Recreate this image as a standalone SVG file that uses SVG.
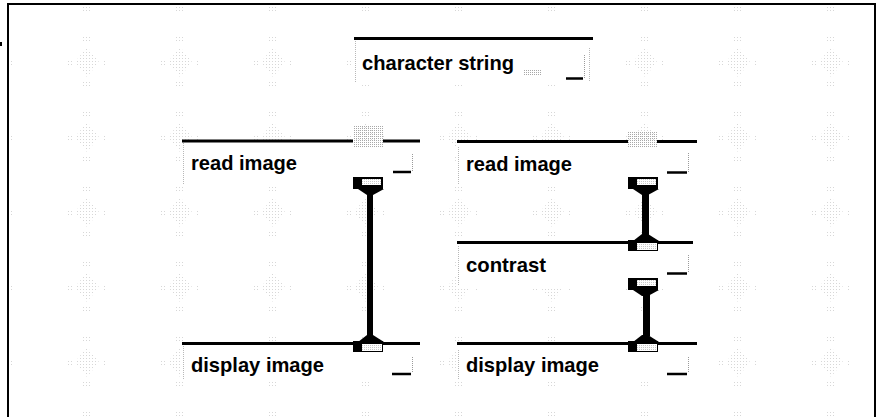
<svg xmlns="http://www.w3.org/2000/svg" xmlns:xlink="http://www.w3.org/1999/xlink" width="880" height="417" viewBox="0 0 880 417">
  <defs>
    <style>
      .body { fill: #fff; }
      .edge { stroke: #b8b8b8; stroke-width: 1; stroke-dasharray: 1 1; fill: none; }
      .bar { stroke: #000; stroke-width: 3; }
      .label { font-family: "Liberation Sans", Arial, sans-serif; font-weight: bold; font-size: 21px; fill: #000; }
      .btn { stroke: #000; stroke-width: 2.5; }
      .tick { stroke: #9a9a9a; stroke-width: 1; stroke-dasharray: 1 1; }
      .stem { fill: #000; }
      .ghost { fill: url(#dither); }
    </style>
    <!-- 1-in-4 pixel dither used for the desktop texture and dimmed ports -->
    <pattern id="dither" width="2" height="2" patternUnits="userSpaceOnUse">
      <rect width="1" height="1" fill="#a8a8a8"/>
    </pattern>
    <!-- sparser dither for the backdrop -->
    <pattern id="sparse" width="3" height="3" patternUnits="userSpaceOnUse">
      <rect width="1" height="1" fill="#b0b0b0"/>
    </pattern>
    <!-- desktop backdrop motif -->
    <pattern id="paper" x="134" y="25" width="93" height="75" patternUnits="userSpaceOnUse">
      <g opacity="0.5">
        <path d="M46,22 L58,37 L46,52 L34,37 Z" fill="url(#sparse)"/>
        <rect x="42" y="12" width="8" height="6" fill="url(#sparse)"/>
        <rect x="42" y="56" width="8" height="6" fill="url(#sparse)"/>
        <rect x="26" y="34" width="5" height="7" fill="url(#sparse)"/>
        <rect x="61" y="34" width="5" height="7" fill="url(#sparse)"/>
      </g>
    </pattern>
    <!-- output port hanging under a node, with the flare into the wire -->
    <g id="port-out">
      <rect x="-17" y="0" width="30" height="12" fill="#000"/>
      <rect x="-8" y="2" width="19" height="6" fill="#fff"/>
      <rect x="-8" y="2" width="19" height="6" fill="url(#dither)" opacity="0.6"/>
      <polygon points="-12,12 14,12 3,18 -3,18" fill="#000"/>
    </g>
    <!-- input port sitting on a node's top bar -->
    <g id="port-in">
      <polygon points="-3,-8 3,-8 14,-1 -12,-1" fill="#000"/>
      <rect x="-17" y="-2" width="30" height="11" fill="#000"/>
      <rect x="-8" y="1" width="20" height="7" fill="#fff"/>
      <rect x="-8" y="1" width="20" height="7" fill="url(#dither)" opacity="0.6"/>
    </g>
  </defs>

  <!-- backdrop -->
  <rect x="0" y="0" width="880" height="417" fill="#fff"/>
  <rect x="9" y="5" width="865" height="412" fill="url(#paper)"/>
  <path d="M8,417 V4 H875 V417" fill="none" stroke="#000" stroke-width="2"/>
  <rect x="0" y="42" width="2" height="4" fill="#000"/>

  <!-- nodes -->
  <g id="node-character-string">
    <rect class="body" x="354" y="40" width="240" height="43"/>
    <line class="edge" x1="355.5" y1="41" x2="355.5" y2="82"/>
    <line class="edge" x1="589.5" y1="48" x2="589.5" y2="82"/>
    <line class="bar" x1="354" y1="38.5" x2="593" y2="38.5"/>
    <text class="label" x="362" y="70" textLength="152" lengthAdjust="spacingAndGlyphs">character string</text>
    <rect class="ghost" x="524" y="69" width="18" height="7"/>
    <line class="btn" x1="566" y1="78.5" x2="583" y2="78.5"/>
    <line class="tick" x1="584.5" y1="55" x2="584.5" y2="78"/>
  </g>

  <g id="node-read-image-1">
    <rect class="body" x="182" y="142" width="238" height="44"/>
    <line class="edge" x1="183.5" y1="143" x2="183.5" y2="185"/>
    <rect class="ghost" x="353" y="126" width="30" height="21"/>
    <line class="bar" x1="182" y1="141" x2="353" y2="141"/>
    <line class="bar" x1="383" y1="141" x2="420" y2="141"/>
    <text class="label" x="191" y="170" textLength="106" lengthAdjust="spacingAndGlyphs">read image</text>
    <line class="btn" x1="393" y1="172" x2="411" y2="172"/>
    <line class="tick" x1="412.5" y1="154" x2="412.5" y2="171"/>
  </g>

  <g id="node-read-image-2">
    <rect class="body" x="457" y="142" width="240" height="44"/>
    <line class="edge" x1="458.5" y1="147" x2="458.5" y2="184"/>
    <rect class="ghost" x="628" y="132" width="29" height="16"/>
    <line class="bar" x1="457" y1="141.5" x2="628" y2="141.5"/>
    <line class="bar" x1="657" y1="141.5" x2="697" y2="141.5"/>
    <text class="label" x="466" y="171" textLength="106" lengthAdjust="spacingAndGlyphs">read image</text>
    <line class="btn" x1="667" y1="172.5" x2="687" y2="172.5"/>
    <line class="tick" x1="688.5" y1="153" x2="688.5" y2="172"/>
  </g>

  <g id="node-contrast">
    <rect class="body" x="457" y="243" width="236" height="44"/>
    <line class="edge" x1="458.5" y1="246" x2="458.5" y2="286"/>
    <line class="bar" x1="457" y1="242.5" x2="693" y2="242.5"/>
    <text class="label" x="466" y="272" textLength="80" lengthAdjust="spacingAndGlyphs">contrast</text>
    <line class="btn" x1="667" y1="273.5" x2="687" y2="273.5"/>
    <line class="tick" x1="688.5" y1="255" x2="688.5" y2="273"/>
  </g>

  <g id="node-display-image-1">
    <rect class="body" x="182" y="344" width="238" height="37"/>
    <line class="edge" x1="183.5" y1="346" x2="183.5" y2="380"/>
    <line class="bar" x1="182" y1="343.5" x2="420" y2="343.5"/>
    <text class="label" x="191" y="372" textLength="133" lengthAdjust="spacingAndGlyphs">display image</text>
    <line class="btn" x1="392" y1="374" x2="411" y2="374"/>
    <line class="tick" x1="412.5" y1="357" x2="412.5" y2="373"/>
  </g>

  <g id="node-display-image-2">
    <rect class="body" x="457" y="344" width="240" height="37"/>
    <line class="edge" x1="458.5" y1="350" x2="458.5" y2="380"/>
    <line class="bar" x1="457" y1="343.5" x2="697" y2="343.5"/>
    <text class="label" x="466" y="372" textLength="133" lengthAdjust="spacingAndGlyphs">display image</text>
    <line class="btn" x1="667" y1="374" x2="687" y2="374"/>
    <line class="tick" x1="688.5" y1="357" x2="688.5" y2="373"/>
  </g>

  <!-- wires between ports -->
  <g id="connectors">
    <g id="wire-read-display-1">
      <use xlink:href="#port-out" transform="translate(370,177)"/>
      <rect class="stem" x="367" y="193" width="6" height="143"/>
      <use xlink:href="#port-in" transform="translate(370,343)"/>
    </g>
    <g id="wire-read-contrast">
      <use xlink:href="#port-out" transform="translate(645,177)"/>
      <rect class="stem" x="642" y="193" width="7" height="42"/>
      <use xlink:href="#port-in" transform="translate(645,242)"/>
    </g>
    <g id="wire-contrast-display">
      <use xlink:href="#port-out" transform="translate(645,278)"/>
      <rect class="stem" x="643" y="294" width="7" height="42"/>
      <use xlink:href="#port-in" transform="translate(645,343)"/>
    </g>
  </g>
</svg>
